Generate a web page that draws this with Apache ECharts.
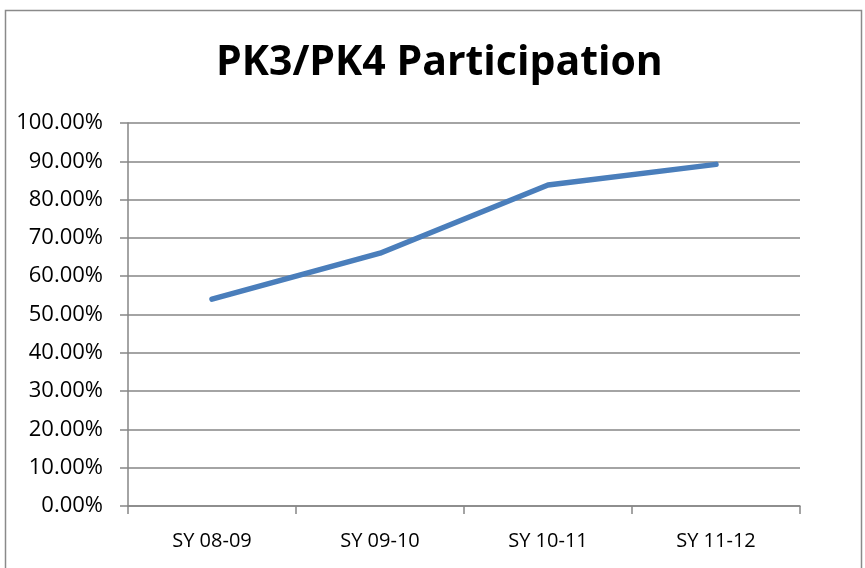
<!DOCTYPE html>
<html><head><meta charset="utf-8">
<script src="https://cdn.jsdelivr.net/npm/echarts@6/dist/echarts.min.js"></script>
<style>html,body{margin:0;padding:0;background:#fff}#c{width:865px;height:568px}</style>
</head><body><div id="c"></div>
<script>
const categories = ["SY 08-09", "SY 09-10", "SY 10-11", "SY 11-12"];
const participation = [0.540, 0.660, 0.838, 0.892];
const titleText = "PK3/PK4 Participation";

const chart = echarts.init(document.getElementById('c'), null, {renderer: 'canvas'});
const fontFam = '"Open Sans", "DejaVu Sans", sans-serif';
chart.setOption({
  animation: false,
  backgroundColor: '#fff',
  title: {
    text: titleText, left: 211, top: 38,
    textStyle: {fontFamily: fontFam, fontWeight: 'bold', fontSize: 41, color: '#000'}
  },
  graphic: [{
    type: 'rect', shape: {x: 5.5, y: 10.5, width: 856, height: 600},
    style: {fill: 'none', stroke: '#8a8a8a', lineWidth: 1.5}, silent: true
  }],
  grid: {left: 128, right: 65, top: 123, bottom: 62, containLabel: false},
  xAxis: {
    type: 'category', data: categories, boundaryGap: true,
    axisLine: {lineStyle: {color: '#868686', width: 1.5}},
    axisTick: {show: true, length: 8, lineStyle: {color: '#868686', width: 1.5}},
    axisLabel: {fontFamily: fontFam, fontSize: 20, color: '#000', margin: 25}
  },
  yAxis: {
    type: 'value', min: 0, max: 1, interval: 0.1,
    axisLine: {show: true, lineStyle: {color: '#868686', width: 1.5}},
    axisTick: {show: true, inside: false, length: 8, lineStyle: {color: '#868686', width: 1.5}},
    splitLine: {show: true, lineStyle: {color: '#868686', width: 1.5}},
    axisLabel: {fontFamily: fontFam, fontSize: 22, color: '#000', margin: 25,
      formatter: v => (v * 100).toFixed(2) + '%'}
  },
  series: [{
    type: 'line', data: participation, symbol: 'none',
    lineStyle: {color: '#4a7ebb', width: 5.5, cap: 'round', join: 'round'}
  }]
});
</script></body></html>
